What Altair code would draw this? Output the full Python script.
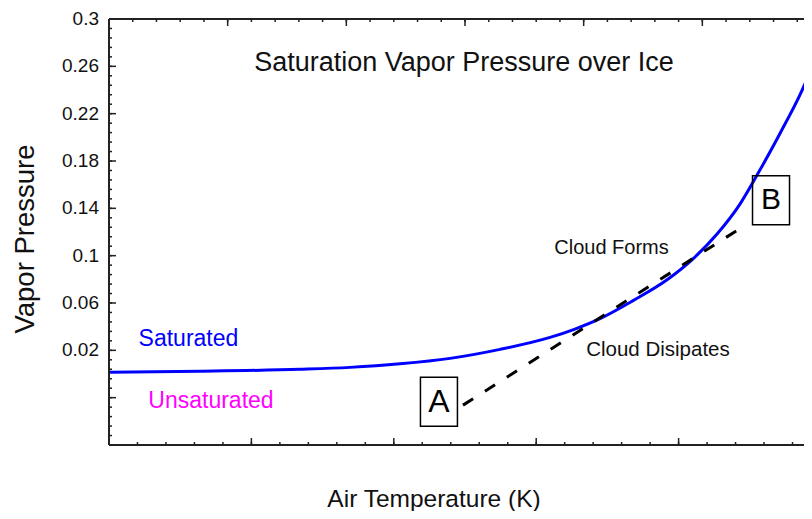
import altair as alt
import pandas as pd

# ---- data ----
temp_K = [230.00, 236.39, 243.41, 246.92, 250.44, 253.95, 257.46, 260.97, 262.72,
          264.48, 266.80, 269.19, 271.01, 272.70, 274.31, 275.58, 277.12, 278.53, 279.37]
vapor = [0.0014, 0.0023, 0.0040, 0.0056, 0.0086, 0.0132, 0.0208, 0.0309, 0.0380,
         0.0468, 0.0620, 0.0796, 0.0973, 0.1183, 0.1436, 0.1696, 0.2033, 0.2361, 0.2588]

path_K = [254.86, 274.80]          # A -> B cooling path
path_vp = [-0.0263, 0.1267]

y_labels = [0.02, 0.06, 0.10, 0.14, 0.18, 0.22, 0.26, 0.30]
y_label_text = ["0.02", "0.06", "0.1", "0.14", "0.18", "0.22", "0.26", "0.3"]
y_major = [-0.02] + y_labels
y_minor = [round(-0.06 + 0.008 * i, 3) for i in range(46)]
bottom_major = [240, 250, 260, 270]
bottom_minor = [230 + 2 * i for i in range(25)]
top_major = [230 + 50 / 6 * i for i in range(1, 6)]
top_minor = [230 + 50 / 30 * i for i in range(1, 30)]

FONT = "Liberation Sans"
W, H = 695, 426
AX = "#222"
xs = alt.Scale(domain=[230, 230 + W / 14.24], nice=False, zero=False)
ys = alt.Scale(domain=[-0.06, 0.3], nice=False, zero=False)

def X():
    return alt.X("x:Q", scale=xs, axis=None)

def Y():
    return alt.Y("y:Q", scale=ys, axis=None)

one = pd.DataFrame({"a": [0]})

curve = alt.Chart(pd.DataFrame({"x": temp_K, "y": vapor})).mark_line(
    color="#0000FF", strokeWidth=3, interpolate="monotone", clip=True
).encode(x=X(), y=Y())

dashed = alt.Chart(pd.DataFrame({"x": path_K, "y": path_vp})).mark_line(
    color="black", strokeWidth=3, strokeDash=[12, 14]).encode(x=X(), y=Y())

left_line = alt.Chart(one).mark_rule(color=AX, strokeWidth=2).encode(
    x=alt.value(0), y=alt.value(0), y2=alt.value(H))
bottom_line = alt.Chart(one).mark_rule(color=AX, strokeWidth=2).encode(
    x=alt.value(0), x2=alt.value(W), y=alt.value(H))
top_line = alt.Chart(one).mark_rule(color=AX, strokeWidth=2).encode(
    x=alt.value(0), x2=alt.value(W), y=alt.value(0))

def yticks(vals, length):
    return alt.Chart(pd.DataFrame({"y": vals})).mark_rule(
        color=AX, strokeWidth=1.5).encode(
        x=alt.value(0), x2=alt.value(length), y=Y())

def xticks(vals, length, top):
    y0, y1 = (0, length) if top else (H, H - length)
    return alt.Chart(pd.DataFrame({"x": vals})).mark_rule(
        color=AX, strokeWidth=1.5, clip=True).encode(
        x=X(), y=alt.value(y0), y2=alt.value(y1))

ylab = alt.Chart(pd.DataFrame({"y": y_labels, "t": y_label_text})).mark_text(
    font=FONT, fontSize=19, color="#111", align="right", baseline="middle"
).encode(x=alt.value(-10), y=Y(), text="t:N")

ytitle = alt.Chart(pd.DataFrame({"t": ["Vapor Pressure"]})).mark_text(
    font=FONT, fontSize=27.5, color="#111", angle=270, align="center",
    baseline="middle").encode(x=alt.value(-83), y=alt.value(220), text="t:N")

xtitle = alt.Chart(pd.DataFrame({"t": ["Air Temperature (K)"]})).mark_text(
    font=FONT, fontSize=24.5, color="#111", align="center",
    baseline="middle").encode(x=alt.value(325), y=alt.value(481), text="t:N")

def label(txt, x, y, size, color="#111"):
    return alt.Chart(pd.DataFrame({"x": [x], "y": [y], "t": [txt]})).mark_text(
        font=FONT, fontSize=size, color=color, align="center",
        baseline="middle").encode(x=X(), y=Y(), text="t:N")

def box(x, y):
    return alt.Chart(pd.DataFrame({"x": [x], "y": [y]})).mark_point(
        shape="M-0.755,-1L0.755,-1L0.755,1L-0.755,1Z", size=2401, filled=False,
        stroke="black", strokeWidth=1.5, opacity=1).encode(x=X(), y=Y())

chart = alt.layer(
    curve, dashed, left_line, bottom_line, top_line,
    yticks(y_minor, 3), yticks(y_major, 7),
    xticks(bottom_minor, 3, False), xticks(bottom_major, 7, False),
    xticks(top_minor, 3, True), xticks(top_major, 7, True),
    ylab, ytitle, xtitle,
    label("Saturation Vapor Pressure over Ice", 254.93, 0.2630, 27),
    label("Saturated", 235.58, 0.030, 23, "#0000FF"),
    label("Unsaturated", 237.16, -0.0225, 23, "#FF00FF"),
    label("Cloud Forms", 265.29, 0.1061, 20),
    label("Cloud Disipates", 268.55, 0.0199, 20.5),
    box(253.17, -0.0234), box(276.49, 0.1469),
    label("A", 253.17, -0.0234, 32, "black"),
    label("B", 276.49, 0.1469, 30, "black"),
).properties(
    width=W, height=H,
    autosize=alt.AutoSizeParams(type="none"),
    padding={"left": 101, "top": 11, "right": 0, "bottom": 66},
).configure_view(stroke=None)

chart.save("out.html", embed_options={"renderer": "svg", "actions": False})
